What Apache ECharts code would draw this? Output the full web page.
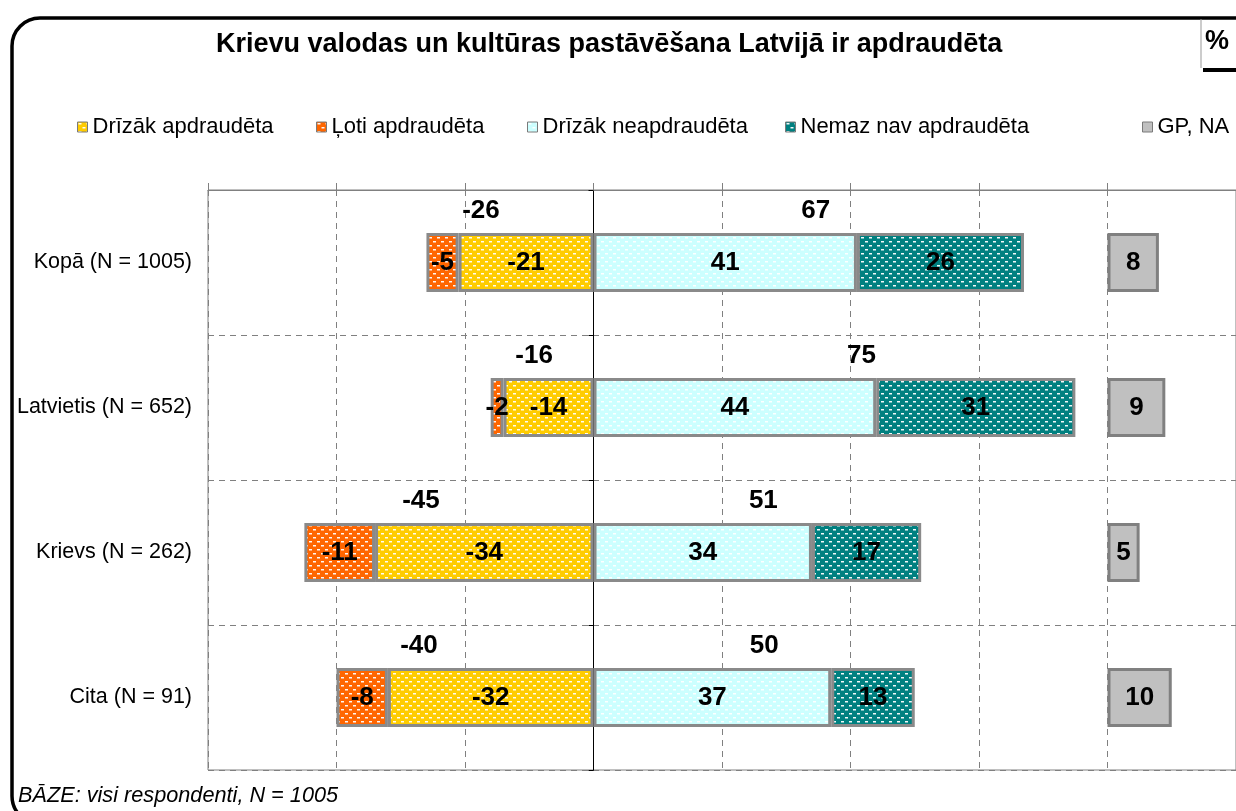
<!DOCTYPE html>
<html>
<head>
<meta charset="utf-8">
<script src="https://cdn.jsdelivr.net/npm/echarts@6/dist/echarts.min.js"></script>
<style>
  html, body { margin: 0; padding: 0; background: #fff; }
  #chart { width: 1236px; height: 811px; }
</style>
</head>
<body>
<div id="chart"></div>
<script>
// dati
const categories = ['Kopā (N = 1005)', 'Latvietis (N = 652)', 'Krievs (N = 262)', 'Cita (N = 91)']
const drizakApdr = [-21, -14, -34, -32]
const lotiApdr = [-5, -2, -11, -8]
const drizakNeapdr = [41, 44, 34, 37]
const nemazNav = [26, 31, 17, 13]
const gpNa = [8, 9, 5, 10]
const negTotals = [-26, -16, -45, -40]
const posTotals = [67, 75, 51, 50]
const seriesNames = ['Drīzāk apdraudēta', 'Ļoti apdraudēta', 'Drīzāk neapdraudēta', 'Nemaz nav apdraudēta', 'GP, NA']

// label nudges (px), the totals were hand placed in the original
const negNudge = [-29, -8, -28, -46]
const posNudge = [7, 27, 6, 10]
const legendLeft = [77, 316, 527, 785, 1142]

const FONT = "'Liberation Sans', Arial, sans-serif"

function pattern(base) {
  const c = document.createElement('canvas')
  c.width = 8; c.height = 8
  const g = c.getContext('2d')
  g.fillStyle = base; g.fillRect(0, 0, 8, 8)
  g.fillStyle = 'rgba(255,255,255,0.95)'
  g.fillRect(1, 1, 3, 1.5)
  g.fillRect(5, 5, 3, 1.5)
  return { image: c, repeat: 'repeat' }
}

const colors = [pattern('#FFCC00'), pattern('#FF6600'), pattern('#CCFFFF'), pattern('#008080'), '#C0C0C0']

const chart = echarts.init(document.getElementById('chart'))

const segLabel = {
  show: true, position: 'inside', color: '#000',
  fontFamily: FONT, fontSize: 26, fontWeight: 'bold',
}

function barSeries(i, data, extra) {
  return Object.assign({
    name: seriesNames[i], type: 'bar', stack: 'a', data: data,
    barWidth: 59,
    itemStyle: { color: colors[i], borderColor: '#8a8a8a', borderWidth: 3 },
    label: segLabel,
  }, extra || {})
}

const totalPts = negTotals.map((v, i) => ({
  value: [v / 2, i], name: String(v), label: { offset: [negNudge[i], -52] },
})).concat(posTotals.map((v, i) => ({
  value: [v / 2, i], name: String(v), label: { offset: [posNudge[i], -52] },
})))

chart.setOption({
  animation: false,
  backgroundColor: '#fff',
  title: {
    text: 'Krievu valodas un kultūras pastāvēšana Latvijā ir apdraudēta',
    left: 216, top: 31, padding: 0,
    textStyle: { fontFamily: FONT, fontSize: 27, fontWeight: 'bold', color: '#000' },
  },
  legend: seriesNames.map((n, i) => ({
    data: [n], left: legendLeft[i], top: 116, padding: 0,
    icon: 'rect', itemWidth: 10, itemHeight: 10, selectedMode: false,
    itemStyle: { borderColor: '#7a7a7a', borderWidth: 1 },
    textStyle: { fontFamily: FONT, fontSize: 22, color: '#000' },
  })),
  grid: { left: 208, top: 190, width: 1029, height: 580, show: true, borderColor: '#808080', borderWidth: 1 },
  xAxis: [{
    type: 'value', min: -60, max: 100, interval: 20, position: 'top',
    axisLine: { show: true, onZero: false, lineStyle: { color: '#808080' } },
    axisTick: { show: true, length: 7, lineStyle: { color: '#808080' } },
    axisLabel: { show: false },
    splitLine: { show: true, lineStyle: { color: '#808080', type: [6, 5] } },
  }, {
    // GP, NA column starts at 80 on the main axis
    type: 'value', min: -140, max: 20, show: false,
    splitLine: { show: false },
  }],
  yAxis: [{
    type: 'category', data: categories, inverse: true,
    axisLine: { show: true, onZero: true, onZeroAxisIndex: 0, lineStyle: { color: '#000' } },
    axisTick: { show: true, length: 5, lineStyle: { color: '#000' } },
    axisLabel: { show: false },
    splitLine: { show: true, lineStyle: { color: '#808080', type: [6, 5] } },
  }, {
    type: 'category', data: categories, inverse: true, position: 'left',
    axisLine: { show: false }, axisTick: { show: false },
    axisLabel: { margin: 16, fontFamily: FONT, fontSize: 21.5, color: '#000' },
    splitLine: { show: false },
  }],
  series: [
    barSeries(0, drizakApdr),
    barSeries(1, lotiApdr),
    barSeries(2, drizakNeapdr),
    barSeries(3, nemazNav),
    barSeries(4, gpNa, { stack: 'gp', xAxisIndex: 1, barGap: '-100%',
      itemStyle: { color: colors[4], borderColor: '#808080', borderWidth: 3 } }),
    {
      type: 'scatter', data: totalPts, symbolSize: 1,
      itemStyle: { color: 'transparent', opacity: 1 }, silent: true,
      label: {
        show: true, position: 'inside', formatter: p => p.name,
        color: '#000', fontFamily: FONT, fontSize: 26, fontWeight: 'bold',
      },
    },
  ],
  graphic: [
    { type: 'rect', shape: { x: 12, y: 18, width: 1250, height: 806, r: 28 },
      style: { fill: 'none', stroke: '#000', lineWidth: 3.5 }, silent: true },
    { type: 'line', shape: { x1: 1201, y1: 19, x2: 1201, y2: 68 },
      style: { stroke: '#999', lineWidth: 1 } },
    { type: 'line', shape: { x1: 1203, y1: 70, x2: 1240, y2: 70 },
      style: { stroke: '#000', lineWidth: 4 } },
    { type: 'text', x: 1217, y: 42,
      style: { text: '%', fontFamily: FONT, fontSize: 27, fontWeight: 'bold', fill: '#000',
        align: 'center', verticalAlign: 'middle' } },
    { type: 'text', x: 18, y: 796,
      style: { text: 'BĀZE: visi respondenti, N = 1005', fontFamily: FONT, fontSize: 21.7,
        fontStyle: 'italic', fill: '#000', verticalAlign: 'middle' } },
  ],
})
</script>
</body>
</html>
